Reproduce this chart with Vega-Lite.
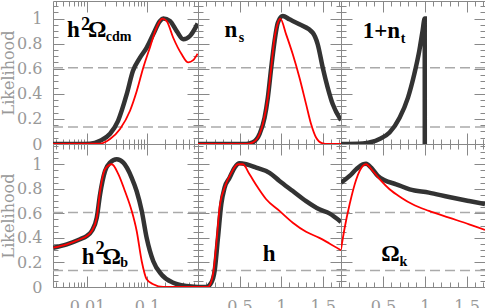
{
  "$schema": "https://vega.github.io/schema/vega-lite/v6.json",
  "autosize": {"type": "pad"},
  "padding": {"left": 0, "top": 0, "right": 0, "bottom": 0},
  "background": "white",
  "config": {
    "view": {"stroke": "#888", "strokeWidth": 1},
    "axis": {"domain": false, "grid": false, "tickColor": "#888", "tickWidth": 1, "labelFont": "DejaVu Serif", "labelFontSize": 16, "labelColor": "#999", "titleFont": "DejaVu Serif", "titleFontSize": 16, "titleFontWeight": "normal", "titleColor": "#999", "labelOverlap": false, "labelFlush": false, "labelBound": false, "titlePadding": 0},
    "text": {"font": "Liberation Serif", "fontWeight": "bold", "color": "black"}
  },
  "datasets": {
    "levels": [{"y": 0.607}, {"y": 0.135}],
    "labels": [
      {"p": "cdm", "part": "main", "x": 0.00464, "y": 0.853, "t": "h"},
      {"p": "cdm", "part": "sup", "x": 0.00794, "y": 0.906, "t": "2"},
      {"p": "cdm", "part": "main", "x": 0.01039, "y": 0.853, "t": "Ω"},
      {"p": "cdm", "part": "sub", "x": 0.0205, "y": 0.821, "t": "cdm"},
      {"p": "ns", "part": "main", "x": 0.32, "y": 0.855, "t": "n"},
      {"p": "ns", "part": "sub", "x": 0.49, "y": 0.816, "t": "s"},
      {"p": "nt", "part": "main", "x": 0.26, "y": 0.847, "t": "1+n"},
      {"p": "nt", "part": "sub", "x": 0.715, "y": 0.808, "t": "t"},
      {"p": "b", "part": "main", "x": 0.00816, "y": 0.185, "t": "h"},
      {"p": "b", "part": "sup", "x": 0.01386, "y": 0.27, "t": "2"},
      {"p": "b", "part": "main", "x": 0.01812, "y": 0.185, "t": "Ω"},
      {"p": "b", "part": "sub", "x": 0.0357, "y": 0.165, "t": "b"},
      {"p": "h", "part": "main", "x": 0.78, "y": 0.212, "t": "h"},
      {"p": "k", "part": "main", "x": 0.48, "y": 0.212, "t": "Ω"},
      {"p": "k", "part": "sub", "x": 0.70, "y": 0.171, "t": "k"}
    ],
    "curves": [
      {"p":"cdm","s":"black","x":0.0027,"y":0},{"p":"cdm","s":"black","x":0.007,"y":0},{"p":"cdm","s":"black","x":0.0112,"y":0.002},{"p":"cdm","s":"black","x":0.0165,"y":0.026},{"p":"cdm","s":"black","x":0.0242,"y":0.082},{"p":"cdm","s":"black","x":0.0329,"y":0.185},{"p":"cdm","s":"black","x":0.0459,"y":0.397},{"p":"cdm","s":"black","x":0.0584,"y":0.583},{"p":"cdm","s":"black","x":0.0764,"y":0.688},{"p":"cdm","s":"black","x":0.0989,"y":0.768},{"p":"cdm","s":"black","x":0.127,"y":0.874},{"p":"cdm","s":"black","x":0.165,"y":0.98},{"p":"cdm","s":"black","x":0.187,"y":1.0},{"p":"cdm","s":"black","x":0.242,"y":0.98},{"p":"cdm","s":"black","x":0.313,"y":0.9},{"p":"cdm","s":"black","x":0.403,"y":0.835},{"p":"cdm","s":"black","x":0.521,"y":0.861},{"p":"cdm","s":"black","x":0.7,"y":0.96},
      {"p":"cdm","s":"red","x":0.0027,"y":0},{"p":"cdm","s":"red","x":0.0165,"y":0.003},{"p":"cdm","s":"red","x":0.0242,"y":0.04},{"p":"cdm","s":"red","x":0.0355,"y":0.12},{"p":"cdm","s":"red","x":0.0521,"y":0.265},{"p":"cdm","s":"red","x":0.0673,"y":0.42},{"p":"cdm","s":"red","x":0.0868,"y":0.61},{"p":"cdm","s":"red","x":0.112,"y":0.77},{"p":"cdm","s":"red","x":0.145,"y":0.93},{"p":"cdm","s":"red","x":0.18,"y":1.0},{"p":"cdm","s":"red","x":0.213,"y":0.98},{"p":"cdm","s":"red","x":0.274,"y":0.847},{"p":"cdm","s":"red","x":0.379,"y":0.715},{"p":"cdm","s":"red","x":0.488,"y":0.65},{"p":"cdm","s":"red","x":0.591,"y":0.668},{"p":"cdm","s":"red","x":0.7,"y":0.72},
      {"p":"ns","s":"black","x":0,"y":0},{"p":"ns","s":"black","x":0.58,"y":0},{"p":"ns","s":"black","x":0.66,"y":0.013},{"p":"ns","s":"black","x":0.741,"y":0.08},{"p":"ns","s":"black","x":0.801,"y":0.21},{"p":"ns","s":"black","x":0.84,"y":0.37},{"p":"ns","s":"black","x":0.881,"y":0.61},{"p":"ns","s":"black","x":0.921,"y":0.82},{"p":"ns","s":"black","x":0.96,"y":0.967},{"p":"ns","s":"black","x":1.02,"y":1.02},{"p":"ns","s":"black","x":1.1,"y":0.994},{"p":"ns","s":"black","x":1.22,"y":0.954},{"p":"ns","s":"black","x":1.38,"y":0.887},{"p":"ns","s":"black","x":1.44,"y":0.795},{"p":"ns","s":"black","x":1.5,"y":0.61},{"p":"ns","s":"black","x":1.56,"y":0.45},{"p":"ns","s":"black","x":1.62,"y":0.318},{"p":"ns","s":"black","x":1.72,"y":0.19},
      {"p":"ns","s":"red","x":0,"y":0},{"p":"ns","s":"red","x":0.58,"y":0},{"p":"ns","s":"red","x":0.66,"y":0.013},{"p":"ns","s":"red","x":0.741,"y":0.08},{"p":"ns","s":"red","x":0.78,"y":0.16},{"p":"ns","s":"red","x":0.84,"y":0.37},{"p":"ns","s":"red","x":0.881,"y":0.61},{"p":"ns","s":"red","x":0.921,"y":0.85},{"p":"ns","s":"red","x":0.96,"y":0.965},{"p":"ns","s":"red","x":0.99,"y":1.0},{"p":"ns","s":"red","x":1.06,"y":0.874},{"p":"ns","s":"red","x":1.14,"y":0.715},{"p":"ns","s":"red","x":1.22,"y":0.53},{"p":"ns","s":"red","x":1.3,"y":0.318},{"p":"ns","s":"red","x":1.36,"y":0.159},{"p":"ns","s":"red","x":1.42,"y":0.052},{"p":"ns","s":"red","x":1.5,"y":0.005},{"p":"ns","s":"red","x":1.56,"y":0},{"p":"ns","s":"red","x":1.72,"y":0},
      {"p":"nt","s":"black","x":0,"y":0},{"p":"nt","s":"black","x":0.26,"y":0.005},{"p":"nt","s":"black","x":0.46,"y":0.04},{"p":"nt","s":"black","x":0.58,"y":0.092},{"p":"nt","s":"black","x":0.7,"y":0.21},{"p":"nt","s":"black","x":0.8,"y":0.37},{"p":"nt","s":"black","x":0.875,"y":0.556},{"p":"nt","s":"black","x":0.935,"y":0.742},{"p":"nt","s":"black","x":0.974,"y":0.9},{"p":"nt","s":"black","x":1.0,"y":1.0},{"p":"nt","s":"black","x":1.001,"y":0},
      {"p":"b","s":"black","x":0.00274,"y":0.32},{"p":"b","s":"black","x":0.00459,"y":0.348},{"p":"b","s":"black","x":0.00764,"y":0.389},{"p":"b","s":"black","x":0.00989,"y":0.416},{"p":"b","s":"black","x":0.01197,"y":0.456},{"p":"b","s":"black","x":0.01452,"y":0.565},{"p":"b","s":"black","x":0.01648,"y":0.755},{"p":"b","s":"black","x":0.01995,"y":0.945},{"p":"b","s":"black","x":0.02416,"y":1.013},{"p":"b","s":"black","x":0.03126,"y":1.04},{"p":"b","s":"black","x":0.04027,"y":1.013},{"p":"b","s":"black","x":0.05559,"y":0.89},{"p":"b","s":"black","x":0.0673,"y":0.78},{"p":"b","s":"black","x":0.08166,"y":0.62},{"p":"b","s":"black","x":0.09886,"y":0.4},{"p":"b","s":"black","x":0.1274,"y":0.21},{"p":"b","s":"black","x":0.1758,"y":0.1},{"p":"b","s":"black","x":0.2744,"y":0.035},{"p":"b","s":"black","x":0.4592,"y":0.008},{"p":"b","s":"black","x":0.71,"y":0},
      {"p":"b","s":"red","x":0.00274,"y":0.32},{"p":"b","s":"red","x":0.00459,"y":0.348},{"p":"b","s":"red","x":0.00764,"y":0.389},{"p":"b","s":"red","x":0.00989,"y":0.416},{"p":"b","s":"red","x":0.01197,"y":0.456},{"p":"b","s":"red","x":0.01452,"y":0.565},{"p":"b","s":"red","x":0.01648,"y":0.78},{"p":"b","s":"red","x":0.01995,"y":0.96},{"p":"b","s":"red","x":0.02582,"y":1.0},{"p":"b","s":"red","x":0.03324,"y":0.92},{"p":"b","s":"red","x":0.04296,"y":0.78},{"p":"b","s":"red","x":0.05559,"y":0.62},{"p":"b","s":"red","x":0.0673,"y":0.456},{"p":"b","s":"red","x":0.08166,"y":0.21},{"p":"b","s":"red","x":0.09886,"y":0.063},{"p":"b","s":"red","x":0.1274,"y":0.022},{"p":"b","s":"red","x":0.1871,"y":0},{"p":"b","s":"red","x":0.71,"y":0},
      {"p":"h","s":"black","x":0,"y":0},{"p":"h","s":"black","x":0.1,"y":0},{"p":"h","s":"black","x":0.16,"y":0.035},{"p":"h","s":"black","x":0.2,"y":0.13},{"p":"h","s":"black","x":0.24,"y":0.4},{"p":"h","s":"black","x":0.28,"y":0.674},{"p":"h","s":"black","x":0.32,"y":0.81},{"p":"h","s":"black","x":0.38,"y":0.89},{"p":"h","s":"black","x":0.44,"y":0.972},{"p":"h","s":"black","x":0.5,"y":1.008},{"p":"h","s":"black","x":0.58,"y":1.0},{"p":"h","s":"black","x":0.7,"y":0.972},{"p":"h","s":"black","x":0.86,"y":0.93},{"p":"h","s":"black","x":0.98,"y":0.864},{"p":"h","s":"black","x":1.14,"y":0.782},{"p":"h","s":"black","x":1.3,"y":0.7},{"p":"h","s":"black","x":1.46,"y":0.633},{"p":"h","s":"black","x":1.58,"y":0.6},{"p":"h","s":"black","x":1.72,"y":0.53},
      {"p":"h","s":"red","x":0,"y":0},{"p":"h","s":"red","x":0.12,"y":0},{"p":"h","s":"red","x":0.18,"y":0.1},{"p":"h","s":"red","x":0.22,"y":0.348},{"p":"h","s":"red","x":0.26,"y":0.646},{"p":"h","s":"red","x":0.32,"y":0.81},{"p":"h","s":"red","x":0.4,"y":0.93},{"p":"h","s":"red","x":0.48,"y":1.0},{"p":"h","s":"red","x":0.54,"y":1.0},{"p":"h","s":"red","x":0.62,"y":0.918},{"p":"h","s":"red","x":0.72,"y":0.81},{"p":"h","s":"red","x":0.82,"y":0.715},{"p":"h","s":"red","x":0.98,"y":0.62},{"p":"h","s":"red","x":1.14,"y":0.524},{"p":"h","s":"red","x":1.3,"y":0.45},{"p":"h","s":"red","x":1.46,"y":0.4},{"p":"h","s":"red","x":1.58,"y":0.355},{"p":"h","s":"red","x":1.72,"y":0.3},
      {"p":"k","s":"black","x":0,"y":0.85},{"p":"k","s":"black","x":0.103,"y":0.905},{"p":"k","s":"black","x":0.183,"y":0.96},{"p":"k","s":"black","x":0.261,"y":1.0},{"p":"k","s":"black","x":0.3,"y":1.005},{"p":"k","s":"black","x":0.36,"y":0.972},{"p":"k","s":"black","x":0.44,"y":0.905},{"p":"k","s":"black","x":0.52,"y":0.87},{"p":"k","s":"black","x":0.66,"y":0.837},{"p":"k","s":"black","x":0.82,"y":0.796},{"p":"k","s":"black","x":1.05,"y":0.769},{"p":"k","s":"black","x":1.29,"y":0.733},{"p":"k","s":"black","x":1.53,"y":0.7},{"p":"k","s":"black","x":1.72,"y":0.675},
      {"p":"k","s":"red","x":0,"y":0.307},{"p":"k","s":"red","x":0.044,"y":0.483},{"p":"k","s":"red","x":0.103,"y":0.674},{"p":"k","s":"red","x":0.183,"y":0.878},{"p":"k","s":"red","x":0.261,"y":0.986},{"p":"k","s":"red","x":0.3,"y":1.0},{"p":"k","s":"red","x":0.38,"y":0.945},{"p":"k","s":"red","x":0.48,"y":0.864},{"p":"k","s":"red","x":0.58,"y":0.796},{"p":"k","s":"red","x":0.72,"y":0.728},{"p":"k","s":"red","x":0.855,"y":0.674},{"p":"k","s":"red","x":1.05,"y":0.62},{"p":"k","s":"red","x":1.29,"y":0.565},{"p":"k","s":"red","x":1.53,"y":0.511},{"p":"k","s":"red","x":1.72,"y":0.465}
    ]
  },
  "columns": 3,
  "spacing": 0,
  "bounds": "flush",
  "concat": [
    {
      "width": 145, "height": 143,
      "layer": [
        {"data": {"name": "levels"}, "mark": {"type": "rule", "stroke": "#aaa", "strokeWidth": 1.5, "strokeDash": [10, 5]},
         "encoding": {"y": {"field": "y", "type": "quantitative", "scale": {"domain": [0, 1.14], "nice": false, "zero": false},
           "axis": {"orient": "left", "title": "Likelihood", "values": [0,0.05,0.1,0.15,0.2,0.25,0.3,0.35,0.4,0.45,0.5,0.55,0.6,0.65,0.7,0.75,0.8,0.85,0.9,0.95,1,1.05,1.1], "format": "~g", "labelPadding": 22,
             "tickSize": {"condition": {"test": "abs(datum.value*5-round(datum.value*5))<0.001", "value": -11}, "value": -5},
             "labelFontSize": {"condition": {"test": "abs(datum.value*5-round(datum.value*5))<0.001", "value": 16}, "value": 0},
             "labelExpr": "abs(datum.value*5-round(datum.value*5))<0.001 ? datum.label : ''"}}}},
        {"data": {"name": "curves"}, "transform": [{"filter": "datum.p=='cdm' && datum.s=='black'"}],
         "mark": {"type": "line", "stroke": "#333", "strokeWidth": 4.5, "interpolate": "monotone", "clip": true},
         "encoding": {
           "x": {"field": "x", "type": "quantitative", "scale": {"type": "log", "domain": [0.0027, 0.71], "nice": false},
             "axis": {"orient": "bottom", "title": null, "labels": false, "values": [0.003,0.004,0.005,0.006,0.007,0.008,0.009,0.01,0.02,0.03,0.04,0.05,0.06,0.07,0.08,0.09,0.1,0.2,0.3,0.4,0.5,0.6,0.7],
               "tickSize": {"condition": {"test": "abs(log(datum.value)/LN10-round(log(datum.value)/LN10))<0.01", "value": -11}, "value": -5}}},
           "y": {"field": "y", "type": "quantitative", "scale": {"domain": [0, 1.14], "nice": false, "zero": false},
             "axis": {"orient": "right", "title": null, "labels": false, "values": [0,0.05,0.1,0.15,0.2,0.25,0.3,0.35,0.4,0.45,0.5,0.55,0.6,0.65,0.7,0.75,0.8,0.85,0.9,0.95,1,1.05,1.1],
               "tickSize": {"condition": {"test": "abs(datum.value*5-round(datum.value*5))<0.001", "value": -11}, "value": -5}}}}},
        {"data": {"name": "curves"}, "transform": [{"filter": "datum.p=='cdm' && datum.s=='red'"}],
         "mark": {"type": "line", "stroke": "#ff0000", "strokeWidth": 1.8, "interpolate": "monotone", "clip": true},
         "encoding": {
           "x": {"field": "x", "type": "quantitative", "scale": {"type": "log", "domain": [0.0027, 0.71], "nice": false}, "axis": null},
           "y": {"field": "y", "type": "quantitative", "scale": {"domain": [0, 1.14], "nice": false, "zero": false}, "axis": null}}},
        {"data": {"name": "labels"}, "transform": [{"filter": "datum.p=='cdm'"}],
         "mark": {"type": "text", "align": "left", "baseline": "alphabetic"},
         "encoding": {
           "x": {"field": "x", "type": "quantitative", "scale": {"type": "log", "domain": [0.0027, 0.71], "nice": false},
             "axis": {"orient": "top", "title": null, "labels": false, "values": [0.003,0.004,0.005,0.006,0.007,0.008,0.009,0.01,0.02,0.03,0.04,0.05,0.06,0.07,0.08,0.09,0.1,0.2,0.3,0.4,0.5,0.6,0.7],
               "tickSize": {"condition": {"test": "abs(log(datum.value)/LN10-round(log(datum.value)/LN10))<0.01", "value": -11}, "value": -5}}},
           "y": {"field": "y", "type": "quantitative", "scale": {"domain": [0, 1.14], "nice": false, "zero": false}, "axis": null},
           "text": {"field": "t"},
           "size": {"field": "part", "type": "nominal", "scale": {"domain": ["main", "sup", "sub"], "range": [23, 14, 16]}, "legend": null}}}
      ],
      "resolve": {"axis": {"x": "independent", "y": "independent"}}
    },
    {
      "width": 143, "height": 143,
      "layer": [
        {"data": {"name": "levels"}, "mark": {"type": "rule", "stroke": "#aaa", "strokeWidth": 1.5, "strokeDash": [10, 5]},
         "encoding": {"y": {"field": "y", "type": "quantitative", "scale": {"domain": [0, 1.14], "nice": false, "zero": false},
           "axis": {"orient": "left", "title": null, "labels": false, "values": [0,0.05,0.1,0.15,0.2,0.25,0.3,0.35,0.4,0.45,0.5,0.55,0.6,0.65,0.7,0.75,0.8,0.85,0.9,0.95,1,1.05,1.1],
             "tickSize": {"condition": {"test": "abs(datum.value*5-round(datum.value*5))<0.001", "value": -11}, "value": -5}}}}},
        {"data": {"name": "curves"}, "transform": [{"filter": "datum.p=='ns' && datum.s=='black'"}],
         "mark": {"type": "line", "stroke": "#333", "strokeWidth": 4.5, "interpolate": "monotone", "clip": true},
         "encoding": {
           "x": {"field": "x", "type": "quantitative", "scale": {"domain": [0, 1.72], "nice": false, "zero": false},
             "axis": {"orient": "bottom", "title": null, "labels": false, "values": [0,0.1,0.2,0.3,0.4,0.5,0.6,0.7,0.8,0.9,1,1.1,1.2,1.3,1.4,1.5,1.6,1.7],
               "tickSize": {"condition": {"test": "abs(datum.value*2-round(datum.value*2))<0.001", "value": -11}, "value": -5}}},
           "y": {"field": "y", "type": "quantitative", "scale": {"domain": [0, 1.14], "nice": false, "zero": false},
             "axis": {"orient": "right", "title": null, "labels": false, "values": [0,0.05,0.1,0.15,0.2,0.25,0.3,0.35,0.4,0.45,0.5,0.55,0.6,0.65,0.7,0.75,0.8,0.85,0.9,0.95,1,1.05,1.1],
               "tickSize": {"condition": {"test": "abs(datum.value*5-round(datum.value*5))<0.001", "value": -11}, "value": -5}}}}},
        {"data": {"name": "curves"}, "transform": [{"filter": "datum.p=='ns' && datum.s=='red'"}],
         "mark": {"type": "line", "stroke": "#ff0000", "strokeWidth": 1.8, "interpolate": "monotone", "clip": true},
         "encoding": {
           "x": {"field": "x", "type": "quantitative", "scale": {"domain": [0, 1.72], "nice": false, "zero": false}, "axis": null},
           "y": {"field": "y", "type": "quantitative", "scale": {"domain": [0, 1.14], "nice": false, "zero": false}, "axis": null}}},
        {"data": {"name": "labels"}, "transform": [{"filter": "datum.p=='ns'"}],
         "mark": {"type": "text", "align": "left", "baseline": "alphabetic"},
         "encoding": {
           "x": {"field": "x", "type": "quantitative", "scale": {"domain": [0, 1.72], "nice": false, "zero": false},
             "axis": {"orient": "top", "title": null, "labels": false, "values": [0,0.1,0.2,0.3,0.4,0.5,0.6,0.7,0.8,0.9,1,1.1,1.2,1.3,1.4,1.5,1.6,1.7],
               "tickSize": {"condition": {"test": "abs(datum.value*2-round(datum.value*2))<0.001", "value": -11}, "value": -5}}},
           "y": {"field": "y", "type": "quantitative", "scale": {"domain": [0, 1.14], "nice": false, "zero": false}, "axis": null},
           "text": {"field": "t"},
           "size": {"field": "part", "type": "nominal", "scale": {"domain": ["main", "sup", "sub"], "range": [23, 14, 16]}, "legend": null}}}
      ],
      "resolve": {"axis": {"x": "independent", "y": "independent"}}
    },
    {
      "width": 144, "height": 143,
      "layer": [
        {"data": {"name": "levels"}, "mark": {"type": "rule", "stroke": "#aaa", "strokeWidth": 1.5, "strokeDash": [10, 5]},
         "encoding": {"y": {"field": "y", "type": "quantitative", "scale": {"domain": [0, 1.14], "nice": false, "zero": false},
           "axis": {"orient": "left", "title": null, "labels": false, "values": [0,0.05,0.1,0.15,0.2,0.25,0.3,0.35,0.4,0.45,0.5,0.55,0.6,0.65,0.7,0.75,0.8,0.85,0.9,0.95,1,1.05,1.1],
             "tickSize": {"condition": {"test": "abs(datum.value*5-round(datum.value*5))<0.001", "value": -11}, "value": -5}}}}},
        {"data": {"name": "curves"}, "transform": [{"filter": "datum.p=='nt' && datum.s=='black'"}],
         "mark": {"type": "line", "stroke": "#333", "strokeWidth": 4.5, "interpolate": "monotone", "clip": true},
         "encoding": {
           "x": {"field": "x", "type": "quantitative", "scale": {"domain": [0, 1.72], "nice": false, "zero": false},
             "axis": {"orient": "bottom", "title": null, "labels": false, "values": [0,0.1,0.2,0.3,0.4,0.5,0.6,0.7,0.8,0.9,1,1.1,1.2,1.3,1.4,1.5,1.6,1.7],
               "tickSize": {"condition": {"test": "abs(datum.value*2-round(datum.value*2))<0.001", "value": -11}, "value": -5}}},
           "y": {"field": "y", "type": "quantitative", "scale": {"domain": [0, 1.14], "nice": false, "zero": false},
             "axis": {"orient": "right", "title": null, "labels": false, "values": [0,0.05,0.1,0.15,0.2,0.25,0.3,0.35,0.4,0.45,0.5,0.55,0.6,0.65,0.7,0.75,0.8,0.85,0.9,0.95,1,1.05,1.1],
               "tickSize": {"condition": {"test": "abs(datum.value*5-round(datum.value*5))<0.001", "value": -11}, "value": -5}}}}},
        {"data": {"name": "labels"}, "transform": [{"filter": "datum.p=='nt'"}],
         "mark": {"type": "text", "align": "left", "baseline": "alphabetic"},
         "encoding": {
           "x": {"field": "x", "type": "quantitative", "scale": {"domain": [0, 1.72], "nice": false, "zero": false},
             "axis": {"orient": "top", "title": null, "labels": false, "values": [0,0.1,0.2,0.3,0.4,0.5,0.6,0.7,0.8,0.9,1,1.1,1.2,1.3,1.4,1.5,1.6,1.7],
               "tickSize": {"condition": {"test": "abs(datum.value*2-round(datum.value*2))<0.001", "value": -11}, "value": -5}}},
           "y": {"field": "y", "type": "quantitative", "scale": {"domain": [0, 1.14], "nice": false, "zero": false}, "axis": null},
           "text": {"field": "t"},
           "size": {"field": "part", "type": "nominal", "scale": {"domain": ["main", "sup", "sub"], "range": [23, 14, 16]}, "legend": null}}}
      ],
      "resolve": {"axis": {"x": "independent", "y": "independent"}}
    },
    {
      "width": 145, "height": 143,
      "layer": [
        {"data": {"name": "levels"}, "mark": {"type": "rule", "stroke": "#aaa", "strokeWidth": 1.5, "strokeDash": [10, 5]},
         "encoding": {"y": {"field": "y", "type": "quantitative", "scale": {"domain": [0, 1.165], "nice": false, "zero": false},
           "axis": {"orient": "left", "title": "Likelihood", "values": [0,0.05,0.1,0.15,0.2,0.25,0.3,0.35,0.4,0.45,0.5,0.55,0.6,0.65,0.7,0.75,0.8,0.85,0.9,0.95,1,1.05,1.1,1.15], "format": "~g", "labelPadding": 22,
             "tickSize": {"condition": {"test": "abs(datum.value*5-round(datum.value*5))<0.001", "value": -11}, "value": -5},
             "labelFontSize": {"condition": {"test": "abs(datum.value*5-round(datum.value*5))<0.001", "value": 16}, "value": 0},
             "labelExpr": "abs(datum.value*5-round(datum.value*5))<0.001 ? datum.label : ''"}}}},
        {"data": {"name": "curves"}, "transform": [{"filter": "datum.p=='b' && datum.s=='black'"}],
         "mark": {"type": "line", "stroke": "#333", "strokeWidth": 4.5, "interpolate": "monotone", "clip": true},
         "encoding": {
           "x": {"field": "x", "type": "quantitative", "scale": {"type": "log", "domain": [0.0027, 0.71], "nice": false},
             "axis": {"orient": "bottom", "title": null, "format": "~g", "labelPadding": 22, "values": [0.003,0.004,0.005,0.006,0.007,0.008,0.009,0.01,0.02,0.03,0.04,0.05,0.06,0.07,0.08,0.09,0.1,0.2,0.3,0.4,0.5,0.6,0.7],
               "tickSize": {"condition": {"test": "abs(log(datum.value)/LN10-round(log(datum.value)/LN10))<0.01", "value": -11}, "value": -5},
               "labelFontSize": {"condition": {"test": "abs(log(datum.value)/LN10-round(log(datum.value)/LN10))<0.01", "value": 16}, "value": 0},
               "labelExpr": "abs(log(datum.value)/LN10-round(log(datum.value)/LN10))<0.01 ? datum.label : ''"}},
           "y": {"field": "y", "type": "quantitative", "scale": {"domain": [0, 1.165], "nice": false, "zero": false},
             "axis": {"orient": "right", "title": null, "labels": false, "values": [0,0.05,0.1,0.15,0.2,0.25,0.3,0.35,0.4,0.45,0.5,0.55,0.6,0.65,0.7,0.75,0.8,0.85,0.9,0.95,1,1.05,1.1,1.15],
               "tickSize": {"condition": {"test": "abs(datum.value*5-round(datum.value*5))<0.001", "value": -11}, "value": -5}}}}},
        {"data": {"name": "curves"}, "transform": [{"filter": "datum.p=='b' && datum.s=='red'"}],
         "mark": {"type": "line", "stroke": "#ff0000", "strokeWidth": 1.8, "interpolate": "monotone", "clip": true},
         "encoding": {
           "x": {"field": "x", "type": "quantitative", "scale": {"type": "log", "domain": [0.0027, 0.71], "nice": false}, "axis": null},
           "y": {"field": "y", "type": "quantitative", "scale": {"domain": [0, 1.165], "nice": false, "zero": false}, "axis": null}}},
        {"data": {"name": "labels"}, "transform": [{"filter": "datum.p=='b'"}],
         "mark": {"type": "text", "align": "left", "baseline": "alphabetic"},
         "encoding": {
           "x": {"field": "x", "type": "quantitative", "scale": {"type": "log", "domain": [0.0027, 0.71], "nice": false},
             "axis": {"orient": "top", "title": null, "labels": false, "values": [0.003,0.004,0.005,0.006,0.007,0.008,0.009,0.01,0.02,0.03,0.04,0.05,0.06,0.07,0.08,0.09,0.1,0.2,0.3,0.4,0.5,0.6,0.7],
               "tickSize": {"condition": {"test": "abs(log(datum.value)/LN10-round(log(datum.value)/LN10))<0.01", "value": -11}, "value": -5}}},
           "y": {"field": "y", "type": "quantitative", "scale": {"domain": [0, 1.165], "nice": false, "zero": false}, "axis": null},
           "text": {"field": "t"},
           "size": {"field": "part", "type": "nominal", "scale": {"domain": ["main", "sup", "sub"], "range": [23, 14, 16]}, "legend": null}}}
      ],
      "resolve": {"axis": {"x": "independent", "y": "independent"}}
    },
    {
      "width": 143, "height": 143,
      "layer": [
        {"data": {"name": "levels"}, "mark": {"type": "rule", "stroke": "#aaa", "strokeWidth": 1.5, "strokeDash": [10, 5]},
         "encoding": {"y": {"field": "y", "type": "quantitative", "scale": {"domain": [0, 1.165], "nice": false, "zero": false},
           "axis": {"orient": "left", "title": null, "labels": false, "values": [0,0.05,0.1,0.15,0.2,0.25,0.3,0.35,0.4,0.45,0.5,0.55,0.6,0.65,0.7,0.75,0.8,0.85,0.9,0.95,1,1.05,1.1,1.15],
             "tickSize": {"condition": {"test": "abs(datum.value*5-round(datum.value*5))<0.001", "value": -11}, "value": -5}}}}},
        {"data": {"name": "curves"}, "transform": [{"filter": "datum.p=='h' && datum.s=='black'"}],
         "mark": {"type": "line", "stroke": "#333", "strokeWidth": 4.5, "interpolate": "monotone", "clip": true},
         "encoding": {
           "x": {"field": "x", "type": "quantitative", "scale": {"domain": [0, 1.72], "nice": false, "zero": false},
             "axis": {"orient": "bottom", "title": null, "format": "~g", "labelPadding": 22, "values": [0,0.1,0.2,0.3,0.4,0.5,0.6,0.7,0.8,0.9,1,1.1,1.2,1.3,1.4,1.5,1.6,1.7],
               "tickSize": {"condition": {"test": "abs(datum.value*2-round(datum.value*2))<0.001", "value": -11}, "value": -5},
               "labelFontSize": {"condition": {"test": "datum.value>0.01 && abs(datum.value*2-round(datum.value*2))<0.001", "value": 16}, "value": 0},
               "labelExpr": "datum.value>0.01 && abs(datum.value*2-round(datum.value*2))<0.001 ? datum.label : ''"}},
           "y": {"field": "y", "type": "quantitative", "scale": {"domain": [0, 1.165], "nice": false, "zero": false},
             "axis": {"orient": "right", "title": null, "labels": false, "values": [0,0.05,0.1,0.15,0.2,0.25,0.3,0.35,0.4,0.45,0.5,0.55,0.6,0.65,0.7,0.75,0.8,0.85,0.9,0.95,1,1.05,1.1,1.15],
               "tickSize": {"condition": {"test": "abs(datum.value*5-round(datum.value*5))<0.001", "value": -11}, "value": -5}}}}},
        {"data": {"name": "curves"}, "transform": [{"filter": "datum.p=='h' && datum.s=='red'"}],
         "mark": {"type": "line", "stroke": "#ff0000", "strokeWidth": 1.8, "interpolate": "monotone", "clip": true},
         "encoding": {
           "x": {"field": "x", "type": "quantitative", "scale": {"domain": [0, 1.72], "nice": false, "zero": false}, "axis": null},
           "y": {"field": "y", "type": "quantitative", "scale": {"domain": [0, 1.165], "nice": false, "zero": false}, "axis": null}}},
        {"data": {"name": "labels"}, "transform": [{"filter": "datum.p=='h'"}],
         "mark": {"type": "text", "align": "left", "baseline": "alphabetic"},
         "encoding": {
           "x": {"field": "x", "type": "quantitative", "scale": {"domain": [0, 1.72], "nice": false, "zero": false},
             "axis": {"orient": "top", "title": null, "labels": false, "values": [0,0.1,0.2,0.3,0.4,0.5,0.6,0.7,0.8,0.9,1,1.1,1.2,1.3,1.4,1.5,1.6,1.7],
               "tickSize": {"condition": {"test": "abs(datum.value*2-round(datum.value*2))<0.001", "value": -11}, "value": -5}}},
           "y": {"field": "y", "type": "quantitative", "scale": {"domain": [0, 1.165], "nice": false, "zero": false}, "axis": null},
           "text": {"field": "t"},
           "size": {"field": "part", "type": "nominal", "scale": {"domain": ["main", "sup", "sub"], "range": [23, 14, 16]}, "legend": null}}}
      ],
      "resolve": {"axis": {"x": "independent", "y": "independent"}}
    },
    {
      "width": 144, "height": 143,
      "layer": [
        {"data": {"name": "levels"}, "mark": {"type": "rule", "stroke": "#aaa", "strokeWidth": 1.5, "strokeDash": [10, 5]},
         "encoding": {"y": {"field": "y", "type": "quantitative", "scale": {"domain": [0, 1.165], "nice": false, "zero": false},
           "axis": {"orient": "left", "title": null, "labels": false, "values": [0,0.05,0.1,0.15,0.2,0.25,0.3,0.35,0.4,0.45,0.5,0.55,0.6,0.65,0.7,0.75,0.8,0.85,0.9,0.95,1,1.05,1.1,1.15],
             "tickSize": {"condition": {"test": "abs(datum.value*5-round(datum.value*5))<0.001", "value": -11}, "value": -5}}}}},
        {"data": {"name": "curves"}, "transform": [{"filter": "datum.p=='k' && datum.s=='black'"}],
         "mark": {"type": "line", "stroke": "#333", "strokeWidth": 4.5, "interpolate": "monotone", "clip": true},
         "encoding": {
           "x": {"field": "x", "type": "quantitative", "scale": {"domain": [0, 1.72], "nice": false, "zero": false},
             "axis": {"orient": "bottom", "title": null, "format": "~g", "labelPadding": 22, "values": [0,0.1,0.2,0.3,0.4,0.5,0.6,0.7,0.8,0.9,1,1.1,1.2,1.3,1.4,1.5,1.6,1.7],
               "tickSize": {"condition": {"test": "abs(datum.value*2-round(datum.value*2))<0.001", "value": -11}, "value": -5},
               "labelFontSize": {"condition": {"test": "datum.value>0.01 && abs(datum.value*2-round(datum.value*2))<0.001", "value": 16}, "value": 0},
               "labelExpr": "datum.value>0.01 && abs(datum.value*2-round(datum.value*2))<0.001 ? datum.label : ''"}},
           "y": {"field": "y", "type": "quantitative", "scale": {"domain": [0, 1.165], "nice": false, "zero": false},
             "axis": {"orient": "right", "title": null, "labels": false, "values": [0,0.05,0.1,0.15,0.2,0.25,0.3,0.35,0.4,0.45,0.5,0.55,0.6,0.65,0.7,0.75,0.8,0.85,0.9,0.95,1,1.05,1.1,1.15],
               "tickSize": {"condition": {"test": "abs(datum.value*5-round(datum.value*5))<0.001", "value": -11}, "value": -5}}}}},
        {"data": {"name": "curves"}, "transform": [{"filter": "datum.p=='k' && datum.s=='red'"}],
         "mark": {"type": "line", "stroke": "#ff0000", "strokeWidth": 1.8, "interpolate": "monotone", "clip": true},
         "encoding": {
           "x": {"field": "x", "type": "quantitative", "scale": {"domain": [0, 1.72], "nice": false, "zero": false}, "axis": null},
           "y": {"field": "y", "type": "quantitative", "scale": {"domain": [0, 1.165], "nice": false, "zero": false}, "axis": null}}},
        {"data": {"name": "labels"}, "transform": [{"filter": "datum.p=='k'"}],
         "mark": {"type": "text", "align": "left", "baseline": "alphabetic"},
         "encoding": {
           "x": {"field": "x", "type": "quantitative", "scale": {"domain": [0, 1.72], "nice": false, "zero": false},
             "axis": {"orient": "top", "title": null, "labels": false, "values": [0,0.1,0.2,0.3,0.4,0.5,0.6,0.7,0.8,0.9,1,1.1,1.2,1.3,1.4,1.5,1.6,1.7],
               "tickSize": {"condition": {"test": "abs(datum.value*2-round(datum.value*2))<0.001", "value": -11}, "value": -5}}},
           "y": {"field": "y", "type": "quantitative", "scale": {"domain": [0, 1.165], "nice": false, "zero": false}, "axis": null},
           "text": {"field": "t"},
           "size": {"field": "part", "type": "nominal", "scale": {"domain": ["main", "sup", "sub"], "range": [23, 14, 16]}, "legend": null}}}
      ],
      "resolve": {"axis": {"x": "independent", "y": "independent"}}
    }
  ]
}
